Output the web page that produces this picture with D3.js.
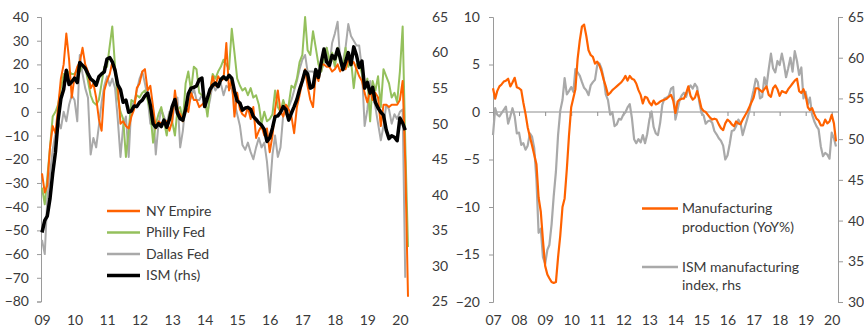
<!DOCTYPE html>
<html>
<head>
<meta charset="utf-8">
<script src="https://cdn.jsdelivr.net/npm/d3@7"></script>
<style>
  body { margin: 0; background: #fff; }
  svg text { font-family: Lato, "Noto Sans", sans-serif; font-size: 14px; fill: #3a3a3a; }
</style>
</head>
<body>
<svg id="chart" width="864" height="327"></svg>
<script>
// ---- Regional Fed manufacturing surveys, monthly Jan 2009 onwards ----
const nyEmpire = [
  -26, -34, -31, -15, -6, -9, 2, 14, 20, 33, 22, 6,
  15, 19, 21, 27, 20, 17, 10, 12, 6, -3, -8, 9,
  13, 16, 21, 17, 11, -5, -4, -6, -7, -2, 1, 10,
  12, 17, 18, 9, 11, 2, -7, -4, -5, -4, -4, -8,
  -4, 9, 1, -1, -4, 2, 0, 8, 5, 5, 2, 3,
  4, 6, 8, 15, 11, 15, 13, 14, 29, 9, 14, -2,
  8, 1, -1, -2, 2, -3, 2, -11, -8, -6, -10, -7,
  -17, -10, 1, 9, 0, -2, 3, 1, -2, -9, 2, 7,
  13, 18, 11, 5, 2, 16, 13, 20, 20, 19, 19, 17,
  18, 20, 17, 19, 18, 22, 20, 21, 18, 15, 13, 8,
  4, 9, 5, 8, 6, -6, 3, 3, 2, 3, 3, 3,
  5, 13, -21, -78
];
const phillyFed = [
  -32, -39, -28, -15, -2, 0, 3, 10, 16, 14, 17, 16,
  16, 18, 17, 20, 19, 13, 7, 4, 3, 5, 12, 19,
  19, 28, 36, 19, 6, 0, -3, -19, -8, 5, 4, 7,
  6, 8, 9, 5, 0, -13, -5, -1, 2, -4, -10, -1,
  -4, -10, 1, 2, -4, 12, 17, 9, 19, 18, 8, 7,
  6, -2, 8, 16, 14, 17, 19, 22, 20, 18, 35, 25,
  14, 11, 9, 10, 7, 10, 6, 7, 3, -5, 0, -4,
  -3, -1, 9, 2, 0, 5, 1, 3, 11, 10, 14, 21,
  24, 40, 26, 24, 34, 27, 20, 17, 22, 27, 22, 25,
  19, 27, 21, 18, 27, 19, 22, 10, 20, 21, 16, 10,
  14, -4, 13, 9, 15, 2, 18, 15, 12, 6, 8, 4,
  17, 36, -13, -57
];
const dallasFed = [
  -54, -60, -37, -26, -16, -9, -4, -7, 0, -4, 3, 7,
  5, -4, 24, 16, 10, 6, -18, -11, -15, -6, 4, 11,
  15, 11, 14, 10, -3, -19, -6, -2, -19, 3, 4, 9,
  14, 17, 12, 6, -5, 1, -18, -5, 1, -2, -5, 0,
  -4, 4, 6, -15, -8, 4, 3, 6, 10, 5, 5, 7,
  4, 0, 5, 12, 9, 11, 12, 7, 11, 10, 10, 4,
  -1, -6, -14, -16, -13, -17, -20, -15, -11, -15, -13, -21,
  -34, -18, -10, -19, -15, -1, -1, 2, 5, 9, 13, 18,
  22, 24, 17, 17, 17, 15, 17, 17, 21, 27, 19, 29,
  33, 38, 22, 21, 27, 37, 32, 30, 28, 28, 18, -6,
  1, 13, 8, 2, -5, -12, -6, 3, 1, -5, -1, -3,
  0, 1, -70
];

// ---- ISM manufacturing index and manufacturing production (YoY%), monthly Jan 2007 onwards ----
const ismManufacturing = [
  50.5, 53.8, 53.0, 52.8, 53.2, 53.6, 54.0, 51.9, 52.8, 53.8, 52.8, 50.7,
  50.8, 49.3, 49.5, 48.7, 49.2, 50.7, 50.3, 48.9, 45.0, 38.5, 39.0, 35.5,
  34.7, 36.4, 37.0, 39.5, 43.0, 46.0, 50.5, 53.5, 54.8, 57.5, 55.5, 55.9,
  56.4, 55.8, 58.6, 58.2, 57.8, 57.0, 56.3, 56.0, 55.4, 56.6, 57.0, 57.3,
  59.1, 59.3, 58.7, 57.5, 55.5, 54.8, 53.0, 53.3, 51.6, 51.8, 52.5, 52.4,
  53.0, 53.3, 53.9, 54.3, 52.6, 50.0, 49.5, 50.0, 49.6, 50.5, 49.5, 50.6,
  52.4, 53.4, 51.5, 50.7, 50.5, 52.0, 54.2, 55.0, 55.1, 55.3, 56.2, 56.4,
  52.4, 53.6, 54.8, 55.4, 55.7, 55.2, 56.2, 56.6, 56.2, 56.8, 56.4, 54.6,
  53.2, 52.9, 51.9, 52.2, 52.3, 52.0, 51.0, 50.6, 50.1, 49.8, 49.2, 47.5,
  48.0, 49.4, 51.0, 51.1, 51.6, 52.4, 52.0, 50.5, 51.5, 52.4, 53.4, 54.8,
  56.0, 57.4, 57.0, 55.0, 55.2, 57.6, 56.5, 58.6, 60.5, 58.7, 58.2, 59.6,
  59.1, 60.5, 59.3, 57.6, 58.7, 60.0, 58.3, 60.8, 59.6, 57.9, 58.8, 55.0,
  55.8, 54.3, 55.1, 53.0, 52.2, 51.6, 51.2, 49.1, 47.9, 48.3, 48.1, 47.6,
  50.8, 50.1, 49.1
];
const mfgProductionYoY = [
  2.5, 1.4, 2.2, 2.7, 2.9, 3.2, 3.3, 3.5, 2.7, 3.1, 3.6, 2.6,
  2.5, 2.3, 1.0, -0.2, -1.6, -2.6, -3.5, -4.5, -5.5, -9.0, -10.5, -13.5,
  -16.2, -17.1, -17.5, -17.9, -18.0, -17.9, -15.3, -13.0, -10.0, -9.1, -6.0, -2.5,
  0.5, 1.5, 2.4, 5.6, 7.5, 9.0, 9.2, 8.0, 6.5, 6.0, 5.8, 5.1,
  5.3, 4.9, 4.3, 3.4, 2.7, 1.8, 2.0, 2.3, 2.5, 2.7, 2.9, 3.1,
  3.4, 3.8, 3.3, 3.8, 3.5, 3.4, 3.0, 2.3, 1.8, 0.9, 1.6, 1.5,
  1.0, 0.7, 1.2, 0.8, 0.9, 1.1, 1.2, 1.3, 1.4, 1.6, 1.8, 1.2,
  -0.1, 1.1, 1.3, 1.4, 1.4, 2.0, 2.7, 1.7, 1.3, 1.5, 2.2, 1.4,
  0.4, 0.1, 0.0, -0.3, -0.6, -0.8, -0.7, -0.8, -1.3, -1.7, -1.9, -1.2,
  -0.8, -1.0, -1.3, -1.5, -1.0, -1.2, -1.3, -0.8, -0.4, 0.0, 0.5, 1.0,
  1.5, 2.5, 2.5, 2.3, 2.1, 2.4, 2.7, 1.8, 1.6, 2.5, 2.8, 2.4,
  1.7, 2.2, 2.1, 2.0, 2.4, 2.7, 3.0, 3.3, 3.5, 2.2, 2.0, 2.4,
  1.7, 0.5, 0.2, 0.4, -0.2, -0.7, -0.9, -1.4, -1.4, -0.8, -1.2, -1.0,
  -0.3, -1.2, -3.1
];

// Axis tick values
const leftTicks = [40, 30, 20, 10, 0, -10, -20, -30, -40, -50, -60, -70, -80];
const leftRhsTicks = [65, 60, 55, 50, 45, 40, 35, 30, 25];
const rightTicks = [10, 5, 0, -5, -10, -15, -20];
const rightRhsTicks = [65, 60, 55, 50, 45, 40, 35, 30];

const colors = { orange: "#ff6200", green: "#94c05c", gray: "#a9a9a9", black: "#000000", axis: "#9a9a9a" };

const svg = d3.select("#chart");

// month sequences
const datesSurvey = d3.timeMonth.range(new Date(2009, 0, 1), new Date(2020, 4, 1));   // Jan 09 - Apr 20
const datesLong = d3.timeMonth.range(new Date(2007, 0, 1), new Date(2020, 3, 1));     // Jan 07 - Mar 20
const ismFrom2009 = ismManufacturing.slice(24);

// ================= Left panel =================
const xL = d3.scaleTime().domain([new Date(2009, 0, 1), new Date(2020, 3, 1)]).range([42, 408]);
const yL = d3.scaleLinear().domain([-80, 40]).range([301.5, 17]);
const yLr = d3.scaleLinear().domain([25, 65]).range([301.5, 17]);

const gL = svg.append("g");

// left y axis
const axL = gL.append("g").attr("transform", "translate(41,0)")
  .call(d3.axisLeft(yL).tickValues(leftTicks).tickSize(4).tickPadding(8).tickFormat(d3.format("d")));
axL.select(".domain").attr("stroke", colors.axis);
axL.selectAll(".tick line").attr("stroke", colors.axis);
axL.selectAll("text").attr("fill", "#3a3a3a");

// rhs labels of left panel (no axis line)
gL.append("g").selectAll("text").data(leftRhsTicks).join("text")
  .attr("x", 432).attr("y", d => yLr(d)).attr("dy", "0.35em")
  .attr("text-anchor", "start").text(d => d);

// x axis labels
const axLx = gL.append("g").attr("transform", "translate(0,312)")
  .call(d3.axisBottom(xL).ticks(d3.timeYear.every(1)).tickSize(0).tickPadding(3).tickFormat(d3.timeFormat("%y")));
axLx.select(".domain").remove();
axLx.selectAll("text").attr("fill", "#3a3a3a");

const lineL = d3.line().x((d, i) => xL(datesSurvey[i])).y(d => yL(d));
const lineLr = d3.line().x((d, i) => xL(datesSurvey[i])).y(d => yLr(d));

gL.append("path").datum(dallasFed).attr("d", lineL)
  .attr("fill", "none").attr("stroke", colors.gray).attr("stroke-width", 2).attr("stroke-linejoin", "round");
gL.append("path").datum(phillyFed).attr("d", lineL)
  .attr("fill", "none").attr("stroke", colors.green).attr("stroke-width", 2).attr("stroke-linejoin", "round");
gL.append("path").datum(nyEmpire).attr("d", lineL)
  .attr("fill", "none").attr("stroke", colors.orange).attr("stroke-width", 2).attr("stroke-linejoin", "round");
gL.append("path").datum(ismFrom2009).attr("d", lineLr)
  .attr("fill", "none").attr("stroke", colors.black).attr("stroke-width", 3.5).attr("stroke-linejoin", "round");

// legend
const legL = [
  { name: "NY Empire", color: colors.orange, w: 2.5, y: 211 },
  { name: "Philly Fed", color: colors.green, w: 2.5, y: 232.5 },
  { name: "Dallas Fed", color: colors.gray, w: 2.5, y: 254 },
  { name: "ISM (rhs)", color: colors.black, w: 3.5, y: 275.5 }
];
const lg = gL.append("g").selectAll("g").data(legL).join("g");
lg.append("line").attr("x1", 107).attr("x2", 140).attr("y1", d => d.y).attr("y2", d => d.y)
  .attr("stroke", d => d.color).attr("stroke-width", d => d.w);
lg.append("text").attr("x", 146).attr("y", d => d.y).attr("dy", "0.35em").text(d => d.name);

// ================= Right panel =================
const xR = d3.scaleTime().domain([new Date(2007, 0, 1), new Date(2020, 2, 1)]).range([493, 836]);
const yR = d3.scaleLinear().domain([-20, 10]).range([302, 17]);
const yRr = d3.scaleLinear().domain([30, 65]).range([302, 17]);

const gR = svg.append("g");

const axR = gR.append("g").attr("transform", "translate(493,0)")
  .call(d3.axisLeft(yR).tickValues(rightTicks).tickSize(4).tickPadding(9).tickFormat(d3.format("d")));
axR.select(".domain").attr("stroke", colors.axis);
axR.selectAll(".tick line").attr("stroke", colors.axis);

const axRr = gR.append("g").attr("transform", "translate(838,0)")
  .call(d3.axisRight(yRr).tickValues(rightRhsTicks).tickSize(5).tickPadding(5).tickFormat(d3.format("d")));
axRr.select(".domain").attr("stroke", colors.axis);
axRr.selectAll(".tick line").attr("stroke", colors.axis);

// zero line with yearly ticks
const axR0 = gR.append("g").attr("transform", `translate(0,${yR(0)})`)
  .call(d3.axisBottom(xR).ticks(d3.timeYear.every(1)).tickSize(4).tickFormat(""));
axR0.select(".domain").attr("stroke", "#8c8c8c").attr("d", `M493,0H838`);
axR0.selectAll(".tick line").attr("stroke", "#8c8c8c");

const axRx = gR.append("g").attr("transform", "translate(0,312)")
  .call(d3.axisBottom(xR).ticks(d3.timeYear.every(1)).tickSize(0).tickPadding(3).tickFormat(d3.timeFormat("%y")));
axRx.select(".domain").remove();

const lineR = d3.line().x((d, i) => xR(datesLong[i])).y(d => yR(d));
const lineRr = d3.line().x((d, i) => xR(datesLong[i])).y(d => yRr(d));

gR.append("path").datum(ismManufacturing).attr("d", lineRr)
  .attr("fill", "none").attr("stroke", colors.gray).attr("stroke-width", 2.2).attr("stroke-linejoin", "round");
gR.append("path").datum(mfgProductionYoY).attr("d", lineR)
  .attr("fill", "none").attr("stroke", colors.orange).attr("stroke-width", 2.2).attr("stroke-linejoin", "round");

// legend
const legR = [
  { lines: ["Manufacturing", "production (YoY%)"], color: colors.orange, y: 208.5 },
  { lines: ["ISM manufacturing", "index, rhs"], color: colors.gray, y: 267 }
];
const lgR = gR.append("g").selectAll("g").data(legR).join("g");
lgR.append("line").attr("x1", 642).attr("x2", 678).attr("y1", d => d.y).attr("y2", d => d.y)
  .attr("stroke", d => d.color).attr("stroke-width", 2.5);
lgR.append("text").attr("x", 682).attr("y", d => d.y).attr("dy", "0.35em")
  .selectAll("tspan").data(d => d.lines).join("tspan")
  .attr("x", 682).attr("dy", (d, i) => i === 0 ? "0.35em" : "1.3em").text(d => d);
</script>
</body>
</html>
